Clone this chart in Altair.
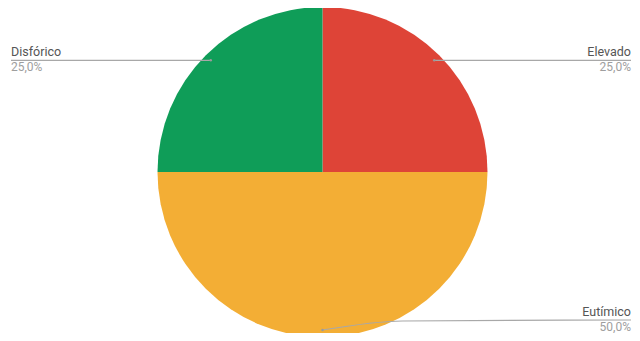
import altair as alt
import pandas as pd
import numpy as np

# ---- data ----
categories = ["Elevado", "Eutímico", "Disfórico"]
values = [25, 50, 25]
pct_labels = ["25,0%", "50,0%", "25,0%"]
colors = ["#DE4437", "#F3AE35", "#0F9D58"]

# ---- layout ----
W, H = 624, 325
CX, CY, R = 314.5, 164, 165
ANCHOR_R = 158
LEFT_X, RIGHT_X = 3, 623
LABEL_MAX_Y = 312
ELBOW_DX = 80

total = float(sum(values))
vals = np.array(values, dtype=float)
mid = np.cumsum(vals) - vals / 2
ang = 2 * np.pi * mid / total
ax = CX + ANCHOR_R * np.sin(ang)
ay = CY - ANCHOR_R * np.cos(ang)

pie_df = pd.DataFrame({"category": categories, "value": values,
                       "idx": list(range(len(categories)))})

line_rows, text_rows, dot_rows = [], [], []
for i, cat in enumerate(categories):
    right = np.sin(ang[i]) >= -1e-9
    end_x = RIGHT_X if right else LEFT_X
    ly = min(ay[i], LABEL_MAX_Y)
    pts = [(ax[i], ay[i])]
    if ly != ay[i]:
        sgn = 1 if right else -1
        pts.append((ax[i] + sgn * ELBOW_DX, ly + 1))
    pts.append((end_x, ly))
    for k, (px, py) in enumerate(pts):
        line_rows.append({"category": cat, "k": k, "x": px, "y": py})
    dot_rows.append({"category": cat, "x": ax[i], "y": ay[i]})
    text_rows.append({"category": cat, "name": cat, "pct": pct_labels[i],
                      "x": end_x, "yn": ly - 4.5, "yp": ly + 10.5,
                      "align": "right" if right else "left"})

line_df = pd.DataFrame(line_rows)
text_df = pd.DataFrame(text_rows)
dot_df = pd.DataFrame(dot_rows)

pie = alt.Chart(pie_df).mark_arc(outerRadius=R).encode(
    theta=alt.Theta("value:Q", stack=True),
    color=alt.Color("category:N", scale=alt.Scale(domain=categories, range=colors), legend=None),
    order=alt.Order("idx:Q", sort="ascending"),
    x=alt.value(CX),
    y=alt.value(CY),
)

lines = alt.Chart(line_df).mark_line(color="#A8A8A8", strokeWidth=1.2, interpolate="monotone").encode(
    x=alt.X("x:Q", scale=None, axis=None),
    y=alt.Y("y:Q", scale=None, axis=None),
    detail="category:N",
    order="k:Q",
)

dots = alt.Chart(dot_df).mark_circle(color="#9a9a9a", size=6, opacity=1).encode(
    x=alt.X("x:Q", scale=None, axis=None),
    y=alt.Y("y:Q", scale=None, axis=None),
)

def texts(df, align):
    d = df[df["align"] == align]
    base = alt.Chart(d)
    n = base.mark_text(align=align, baseline="alphabetic", font="Roboto", fontSize=12.5,
                       color="#555555").encode(
        x=alt.X("x:Q", scale=None, axis=None),
        y=alt.Y("yn:Q", scale=None, axis=None),
        text="name:N",
    )
    p = base.mark_text(align=align, baseline="alphabetic", font="Roboto", fontSize=12,
                       color="#9E9E9E").encode(
        x=alt.X("x:Q", scale=None, axis=None),
        y=alt.Y("yp:Q", scale=None, axis=None),
        text="pct:N",
    )
    return n + p

chart = alt.layer(
    pie, lines, dots, texts(text_df, "left"), texts(text_df, "right")
).properties(
    width=W, height=H, padding=0,
    autosize=alt.AutoSizeParams(type="none"),
).configure_view(stroke=None)

chart.save("out.html", embed_options={"renderer": "svg", "actions": False})
